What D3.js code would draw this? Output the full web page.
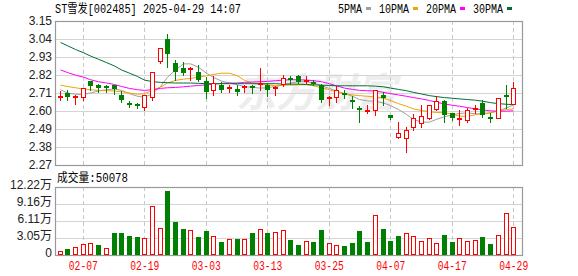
<!DOCTYPE html>
<html>
<head>
<meta charset="utf-8">
<script src="https://cdn.jsdelivr.net/npm/d3@7/dist/d3.min.js"></script>
<style>
  body { margin: 0; background: #fff; }
</style>
</head>
<body>
<script>
// trading days shown (MM-DD)
var dates = ["01-27","02-05","02-06","02-07","02-10","02-11","02-12","02-13","02-14","02-17",
  "02-18","02-19","02-20","02-21","02-24","02-25","02-26","02-27","02-28","03-03",
  "03-04","03-05","03-06","03-07","03-10","03-11","03-12","03-13","03-14","03-17",
  "03-18","03-19","03-20","03-21","03-24","03-25","03-26","03-27","03-28","03-31",
  "04-01","04-02","04-03","04-07","04-08","04-09","04-10","04-11","04-14","04-15",
  "04-16","04-17","04-18","04-21","04-22","04-23","04-24","04-25","04-28","04-29"];

var open = [2.688,2.710,2.692,2.686,2.783,2.760,2.754,2.758,2.700,2.649,
  2.640,2.625,2.686,2.904,3.043,2.892,2.863,2.855,2.841,2.785,
  2.726,2.760,2.738,2.732,2.740,2.752,2.756,2.760,2.734,2.764,
  2.800,2.815,2.777,2.777,2.760,2.674,2.686,2.710,2.670,2.621,
  2.595,2.605,2.700,2.573,2.442,2.436,2.504,2.528,2.557,2.613,
  2.664,2.585,2.547,2.545,2.605,2.649,2.563,2.559,2.700,2.643];
var high = [2.724,2.726,2.698,2.740,2.785,2.762,2.756,2.760,2.720,2.664,
  2.651,2.698,2.837,2.982,3.073,2.912,2.902,2.869,2.882,2.807,
  2.811,2.775,2.760,2.760,2.760,2.758,2.861,2.771,2.750,2.821,
  2.815,2.817,2.815,2.791,2.762,2.694,2.750,2.726,2.690,2.633,
  2.637,2.730,2.714,2.575,2.532,2.502,2.583,2.639,2.637,2.694,
  2.666,2.589,2.605,2.619,2.639,2.670,2.589,2.680,2.760,2.775];
var low = [2.666,2.666,2.641,2.670,2.726,2.714,2.718,2.702,2.653,2.625,
  2.621,2.609,2.666,2.892,2.871,2.791,2.821,2.791,2.781,2.682,
  2.700,2.714,2.714,2.700,2.714,2.712,2.726,2.694,2.700,2.750,
  2.768,2.770,2.771,2.756,2.653,2.637,2.653,2.680,2.619,2.532,
  2.585,2.573,2.639,2.553,2.432,2.351,2.482,2.504,2.553,2.609,
  2.532,2.545,2.512,2.532,2.589,2.565,2.532,2.555,2.619,2.643];
var close = [2.692,2.686,2.694,2.740,2.754,2.742,2.743,2.734,2.666,2.641,
  2.636,2.698,2.837,2.982,2.946,2.841,2.835,2.863,2.787,2.714,
  2.771,2.730,2.746,2.714,2.755,2.745,2.771,2.730,2.744,2.800,
  2.788,2.775,2.787,2.764,2.670,2.686,2.726,2.696,2.653,2.613,
  2.605,2.730,2.680,2.555,2.468,2.482,2.555,2.571,2.637,2.662,
  2.575,2.557,2.559,2.609,2.621,2.573,2.557,2.680,2.694,2.740];

var volume = [7200,10800,14400,19200,21600,18000,12600,39500,39500,34100,
  32300,30500,88000,48500,115000,59300,46700,44900,32300,43100,
  34100,23400,28800,28800,28800,39500,46700,39500,41300,44900,
  27000,18000,25200,23400,44900,21600,18000,16200,21600,43100,
  23400,71900,46700,25200,34100,39500,34100,25200,30500,21600,
  35900,23400,30500,25200,27000,32300,19800,35900,75500,50078];

var ma5 = [2.730,2.710,2.702,2.702,2.710,2.722,2.730,2.734,2.726,2.706,
  2.690,2.684,2.706,2.750,2.807,2.851,2.888,2.888,2.867,2.831,
  2.805,2.783,2.771,2.760,2.750,2.744,2.740,2.742,2.750,2.758,
  2.771,2.779,2.779,2.771,2.754,2.738,2.722,2.706,2.690,2.670,
  2.662,2.660,2.649,2.633,2.609,2.579,2.549,2.532,2.532,2.549,
  2.565,2.577,2.585,2.589,2.583,2.581,2.589,2.601,2.619,2.637];
var ma10 = [2.758,2.750,2.742,2.734,2.730,2.726,2.724,2.722,2.718,2.710,
  2.702,2.706,2.726,2.746,2.771,2.787,2.795,2.799,2.807,2.815,
  2.823,2.831,2.831,2.815,2.787,2.771,2.764,2.760,2.754,2.758,
  2.758,2.760,2.760,2.754,2.742,2.730,2.714,2.706,2.698,2.694,
  2.690,2.686,2.678,2.664,2.645,2.629,2.613,2.603,2.595,2.591,
  2.589,2.581,2.569,2.567,2.577,2.585,2.589,2.601,2.609,2.613];
var ma20 = [2.851,2.835,2.819,2.807,2.791,2.779,2.771,2.762,2.750,2.738,
  2.730,2.726,2.730,2.738,2.742,2.744,2.748,2.752,2.756,2.760,
  2.764,2.769,2.771,2.771,2.775,2.777,2.779,2.781,2.785,2.789,
  2.791,2.791,2.789,2.785,2.779,2.767,2.754,2.740,2.732,2.726,
  2.724,2.722,2.714,2.706,2.698,2.690,2.682,2.674,2.664,2.653,
  2.643,2.635,2.629,2.621,2.613,2.607,2.601,2.599,2.599,2.601];
var ma30 = [3.019,2.999,2.976,2.956,2.936,2.916,2.896,2.875,2.851,2.831,
  2.811,2.789,2.779,2.775,2.773,2.771,2.771,2.771,2.769,2.767,
  2.767,2.767,2.767,2.767,2.767,2.767,2.767,2.767,2.767,2.764,
  2.764,2.764,2.762,2.760,2.758,2.756,2.754,2.754,2.754,2.754,
  2.754,2.752,2.748,2.740,2.732,2.724,2.714,2.704,2.694,2.688,
  2.682,2.678,2.674,2.670,2.666,2.660,2.651,2.645,2.641,2.639];

var maNames = ["5PMA", "10PMA", "20PMA", "30PMA"];
var maColors = ["#a0a0a0", "#f0a30a", "#ff00ff", "#006f36"];
var maSeries = [ma5, ma10, ma20, ma30];

var priceTicks = [3.15, 3.04, 2.93, 2.82, 2.71, 2.60, 2.49, 2.38, 2.27];
var volTicks = [0, 30550, 61100, 91650, 122200];
var volTickLabels = ["0", "3.05万", "6.11万", "9.16万", "12.22万"];
var dateTicks = ["02-07", "02-19", "03-03", "03-13", "03-25", "04-07", "04-17", "04-29"];

var title = "ST雪发[002485] 2025-04-29 14:07";
var volTitle = "成交量:50078";

var RED = "#ff0000", GREEN = "#008000";

d3.select("body").append("svg")
  .attr("width", 578)
  .attr("height", 276)
  .style("display", "block");

var svg = d3.select("svg");

var plotLeft = 55, plotRight = 522;
var priceTop = 21, priceBottom = 165;
var volTop = 187, volBottom = 255;

var x = d3.scaleBand().domain(dates).range([56.4, 517.56]);
function cx(d) { return Math.floor(x(d) + x.bandwidth() / 2); }

var yP = d3.scaleLinear().domain([2.27, 3.15]).range([priceBottom, priceTop]);
var yV = d3.scaleLinear().domain([0, 122200]).range([volBottom, volTop]);

var rows = dates.map(function(d, i) {
  return {
    date: d, o: open[i], h: high[i], l: low[i], c: close[i], v: volume[i],
    up: close[i] >= open[i],
    volUp: i === 0 ? close[i] >= open[i] : close[i] >= close[i - 1]
  };
});

var monoFont = "'Liberation Mono', 'Noto Sans CJK SC', monospace";

// title
svg.append("text")
  .attr("x", 55).attr("y", 13)
  .attr("textLength", 186).attr("lengthAdjust", "spacingAndGlyphs")
  .style("font-family", monoFont).style("font-size", "12px").style("fill", "#000")
  .text(title);

// legend
var lx = 338;
maNames.forEach(function(name, i) {
  var w = name.length * 6;
  svg.append("text")
    .attr("x", lx).attr("y", 13)
    .attr("textLength", w).attr("lengthAdjust", "spacingAndGlyphs")
    .style("font-family", monoFont).style("font-size", "12px").style("fill", "#000")
    .text(name);
  svg.append("rect")
    .attr("x", lx + w + 4).attr("y", 7).attr("width", 5).attr("height", 3)
    .attr("fill", maColors[i]);
  lx += w + 4 + 5 + 8;
});

// watermark
svg.append("text")
  .attr("x", 236).attr("y", 107)
  .style("font-family", "'Noto Sans CJK SC'").style("font-size", "40px")
  .style("font-weight", "bold").style("font-style", "italic")
  .style("fill", "#ededed")
  .text("东方财富");

// horizontal grid
function hGrid(ticks, scale) {
  svg.append("g").selectAll("line").data(ticks).enter().append("line")
    .attr("x1", plotLeft).attr("x2", plotRight)
    .attr("y1", function(d) { return Math.round(scale(d)) + 0.5; })
    .attr("y2", function(d) { return Math.round(scale(d)) + 0.5; })
    .attr("stroke", "#d4d4d4").attr("stroke-width", 1);
}
hGrid(priceTicks.slice(1, -1), yP);
hGrid(volTicks.slice(1, -1), yV);

// vertical dashed lines
[[priceTop, priceBottom], [volTop, volBottom]].forEach(function(r) {
  svg.append("g").selectAll("line").data(dateTicks).enter().append("line")
    .attr("x1", function(d) { return cx(d) + 0.5; })
    .attr("x2", function(d) { return cx(d) + 0.5; })
    .attr("y1", r[0]).attr("y2", r[1])
    .attr("stroke", "#c8c8c8").attr("stroke-dasharray", "4,3");
});

// frames
[[priceTop, priceBottom], [volTop, volBottom]].forEach(function(r) {
  svg.append("rect")
    .attr("x", plotLeft + 0.5).attr("y", r[0] + 0.5)
    .attr("width", plotRight - plotLeft).attr("height", r[1] - r[0])
    .attr("fill", "none").attr("stroke", "#999").attr("stroke-width", 1.2);
});

// moving averages
maSeries.forEach(function(s, k) {
  var line = d3.line()
    .x(function(d, i) { return cx(dates[i]) + 0.5; })
    .y(function(d) { return yP(d); });
  svg.append("path")
    .datum(s)
    .attr("d", line)
    .attr("fill", "none")
    .attr("stroke", maColors[k])
    .attr("stroke-width", 1);
});

// candles
var candles = svg.append("g").selectAll("g").data(rows).enter().append("g");

candles.append("line")
  .attr("x1", function(d) { return cx(d.date) + 0.5; })
  .attr("x2", function(d) { return cx(d.date) + 0.5; })
  .attr("y1", function(d) { return Math.round(yP(d.h)); })
  .attr("y2", function(d) { return Math.round(yP(d.l)) + 1; })
  .attr("stroke", function(d) { return d.up ? RED : GREEN; })
  .attr("stroke-width", 1);

candles.append("rect")
  .each(function(d) {
    var top = Math.round(yP(Math.max(d.o, d.c)));
    var bot = Math.round(yP(Math.min(d.o, d.c)));
    var h = bot - top;
    var el = d3.select(this);
    if (d.up && h > 2) {
      el.attr("x", cx(d.date) - 1.5).attr("y", top + 0.5)
        .attr("width", 4).attr("height", h)
        .attr("fill", "#fff").attr("stroke", RED).attr("stroke-width", 1);
    } else {
      el.attr("x", cx(d.date) - 2).attr("y", top)
        .attr("width", 5).attr("height", Math.max(h, 1) + (h < 2 ? 1 : 0))
        .attr("fill", d.up ? RED : GREEN);
    }
  });

// volume bars
svg.append("g").selectAll("rect").data(rows).enter().append("rect")
  .each(function(d) {
    var top = Math.round(yV(d.v));
    var el = d3.select(this);
    if (d.volUp) {
      el.attr("x", cx(d.date) - 1.5).attr("y", top + 0.5)
        .attr("width", 4).attr("height", volBottom - top - 1)
        .attr("fill", "#fff").attr("stroke", RED).attr("stroke-width", 1);
    } else {
      el.attr("x", cx(d.date) - 2).attr("y", top)
        .attr("width", 5).attr("height", volBottom - top)
        .attr("fill", GREEN);
    }
  });

// volume title
svg.append("text")
  .attr("x", 57).attr("y", 182)
  .attr("textLength", 71).attr("lengthAdjust", "spacingAndGlyphs")
  .style("font-family", monoFont).style("font-size", "12px").style("fill", "#000")
  .text(volTitle);

// axes
var yAxis = svg.append("g")
  .attr("transform", "translate(" + plotLeft + ",0)")
  .call(d3.axisLeft(yP).tickValues(priceTicks).tickFormat(d3.format(".2f")).tickSize(0).tickPadding(3));

var vAxis = svg.append("g")
  .attr("transform", "translate(" + plotLeft + ",0)")
  .call(d3.axisLeft(yV).tickValues(volTicks)
    .tickFormat(function(d, i) { return volTickLabels[i]; })
    .tickSize(0).tickPadding(3));
vAxis.selectAll("text").attr("dy", "0.15em");

var xAxis = svg.append("g")
  .attr("transform", "translate(0," + volBottom + ")")
  .call(d3.axisBottom(x).tickValues(dateTicks).tickSize(0).tickPadding(6.5));
xAxis.selectAll("text")
  .attr("textLength", 29).attr("lengthAdjust", "spacingAndGlyphs")
  .style("font-family", monoFont).style("fill", RED);

[yAxis, vAxis, xAxis].forEach(function(a) {
  a.select(".domain").remove();
  a.selectAll("text").style("font-size", "12px");
});
yAxis.selectAll("text").style("font-family", "'Liberation Sans', Arial, sans-serif").style("fill", "#222");
vAxis.selectAll("text").style("font-family", "'Liberation Sans', 'Noto Sans CJK SC', sans-serif").style("fill", "#222");
</script>
</body>
</html>
